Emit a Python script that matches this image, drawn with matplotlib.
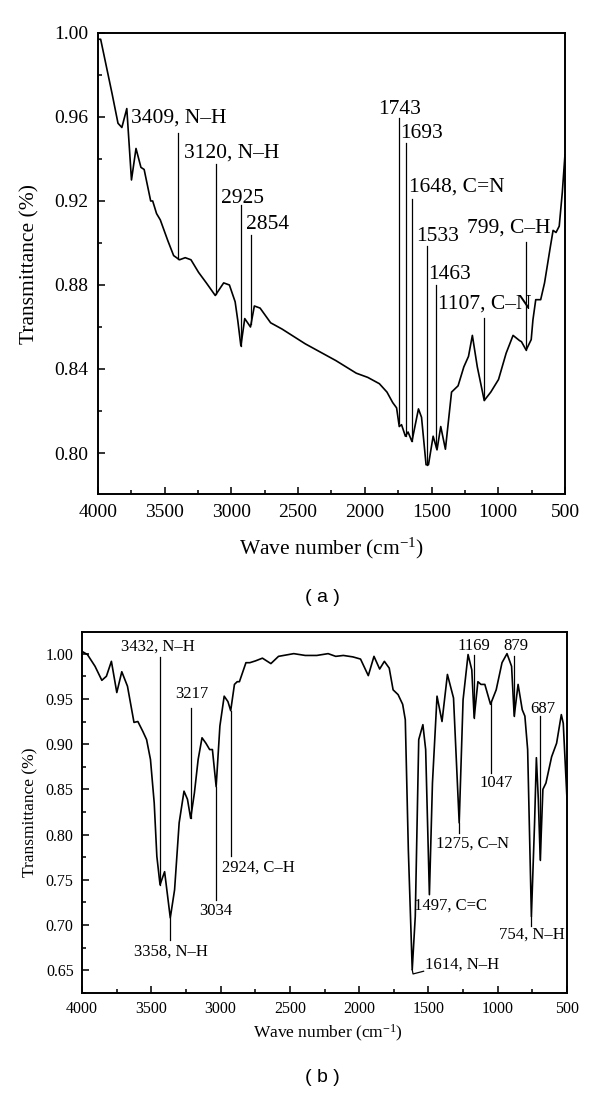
import numpy as np
import matplotlib
matplotlib.use("Agg")
import matplotlib.pyplot as plt
from matplotlib.ticker import MultipleLocator

plt.rcParams['font.family'] = ['Liberation Serif', 'DejaVu Serif']
plt.rcParams['mathtext.fontset'] = 'custom'
plt.rcParams['mathtext.rm'] = 'Liberation Serif'
plt.rcParams['mathtext.it'] = 'Liberation Serif:italic'

# ---------------- Panel (a) data ----------------
wn_a = [4000, 3980, 3937, 3894, 3850, 3821, 3784, 3749, 3715, 3678, 3654, 3605, 3590,
        3561, 3533, 3476, 3433, 3389, 3346, 3303, 3246, 3188, 3121, 3058, 3015, 2972,
        2952, 2929, 2900, 2857, 2828, 2785, 2706, 2620, 2447, 2217, 2064, 1978, 1891,
        1834, 1791, 1762, 1742, 1725, 1696, 1676, 1647, 1598, 1575, 1541, 1523, 1488,
        1459, 1431, 1396, 1350, 1301, 1258, 1223, 1194, 1157, 1105, 1056, 998, 941,
        889, 840, 826, 791, 753, 740, 719, 682, 653, 610, 589, 567, 543, 520, 500]
tr_a = [0.997, 0.997, 0.984, 0.971, 0.957, 0.955, 0.964, 0.930, 0.945, 0.936, 0.935,
        0.920, 0.920, 0.914, 0.911, 0.901, 0.894, 0.892, 0.893, 0.892, 0.886, 0.881,
        0.875, 0.881, 0.880, 0.872, 0.863, 0.851, 0.864, 0.860, 0.870, 0.869, 0.862,
        0.859, 0.852, 0.844, 0.838, 0.836, 0.833, 0.829, 0.824, 0.8215, 0.8126, 0.8135,
        0.808, 0.810, 0.8055, 0.821, 0.817, 0.7944, 0.7944, 0.808, 0.8015, 0.8126,
        0.8018, 0.829, 0.832, 0.841, 0.846, 0.856, 0.841, 0.825, 0.829, 0.835, 0.8475,
        0.856, 0.8535, 0.853, 0.849, 0.854, 0.8634, 0.873, 0.873, 0.881, 0.898, 0.906,
        0.905, 0.908, 0.924, 0.942]

labels_a = ["3409, N\u2013H", "3120, N\u2013H", "2925", "2854", "1743", "1693",
            "1648, C=N", "1533", "1463", "1107, C\u2013N", "799, C\u2013H"]
line_x_a = [3397, 3116, 2929, 2853, 1746, 1695, 1647, 1537, 1465, 1105, 791]
line_top_a = [0.9525, 0.9375, 0.918, 0.904, 0.9597, 0.9475, 0.921, 0.8986, 0.880, 0.8641, 0.9003]
text_x_a = [3750, 3352, 3078, 2894, 1897, 1733, 1667, 1618, 1523, 1453, 1235]
text_y_a = [0.9595, 0.9429, 0.9214, 0.909, 0.9637, 0.9522, 0.9268, 0.903, 0.8852, 0.871, 0.907]

# ---------------- Panel (b) data ----------------
wn_b = [4000, 3961, 3906, 3857, 3824, 3788, 3749, 3713, 3672, 3625, 3597, 3561, 3534,
        3506, 3479, 3460, 3437, 3404, 3363, 3332, 3299, 3264, 3239, 3216, 3189, 3162,
        3134, 3106, 3079, 3059, 3032, 3005, 2974, 2947, 2927, 2900, 2880, 2864, 2817,
        2789, 2748, 2698, 2637, 2582, 2472, 2389, 2306, 2224, 2169, 2114, 2045, 1990,
        1934, 1893, 1852, 1818, 1783, 1755, 1719, 1686, 1667, 1645, 1617, 1595, 1570,
        1540, 1520, 1493, 1471, 1438, 1402, 1363, 1319, 1278, 1250, 1214, 1187, 1170,
        1143, 1121, 1093, 1052, 1011, 969, 933, 900, 881, 853, 823, 804, 784, 757, 734,
        721, 707, 693, 674, 652, 611, 575, 541, 527, 500]
tr_b = [1.0025, 0.999, 0.986, 0.9705, 0.975, 0.9915, 0.957, 0.980, 0.964, 0.924, 0.925,
        0.914, 0.905, 0.883, 0.835, 0.776, 0.7446, 0.759, 0.708, 0.739, 0.813, 0.848,
        0.839, 0.818, 0.846, 0.883, 0.907, 0.901, 0.894, 0.894, 0.853, 0.920, 0.953,
        0.947, 0.937, 0.966, 0.969, 0.969, 0.990, 0.990, 0.992, 0.995, 0.989, 0.997,
        1.000, 0.998, 0.998, 1.000, 0.997, 0.998, 0.9964, 0.994, 0.9757, 0.997, 0.983,
        0.9915, 0.984, 0.960, 0.9547, 0.944, 0.927, 0.783, 0.6507, 0.7096, 0.905,
        0.9215, 0.894, 0.7336, 0.857, 0.953, 0.925, 0.977, 0.951, 0.813, 0.949, 0.999,
        0.982, 0.929, 0.969, 0.966, 0.966, 0.944, 0.960, 0.990, 1.000, 0.986, 0.931,
        0.966, 0.938, 0.931, 0.894, 0.7096, 0.813, 0.885, 0.839, 0.772, 0.850, 0.857,
        0.886, 0.901, 0.9326, 0.923, 0.839]

labels_b = ["3432, N\u2013H", "3217", "3034", "2924, C\u2013H", "3358, N\u2013H",
            "1275, C\u2013N", "1047", "754, N\u2013H", "1169", "879", "687"]
line_x_b = [3437, 3216, 3032, 2927, 3363, 1278, 1046, 757, 1170, 881, 693]
line_end_b = [0.9964, 0.940, 0.728, 0.776, 0.684, 0.802, 0.868, 0.6985, 0.998, 0.997, 0.931]
text_x_b = [3450, 3209, 3035, 2989, 3355, 1443, 1013, 755, 1170, 872, 674]
text_y_b = [1.008, 0.955, 0.716, 0.763, 0.671, 0.790, 0.8566, 0.689, 1.008, 1.008, 0.939]
text_ha_b = ['center', 'center', 'center', 'left', 'center', 'left', 'center', 'center',
             'center', 'center', 'center']

extra_labels_b = ["1497, C=C", "1614, N\u2013H"]
extra_x_b = [1602, 1528]
extra_y_b = [0.7214, 0.656]
hook_x_b = [1617, 1611, 1535]
hook_y_b = [0.6507, 0.646, 0.649]

fig = plt.figure(figsize=(6.0, 10.95), dpi=100)

def style_axes(ax, lw, fs, ymaj, ymin, pad_x, pad_y, maj_len, min_len):
    for s in ax.spines.values():
        s.set_linewidth(lw)
    ax.xaxis.set_major_locator(MultipleLocator(500))
    ax.xaxis.set_minor_locator(MultipleLocator(250))
    ax.yaxis.set_major_locator(MultipleLocator(ymaj))
    ax.yaxis.set_minor_locator(MultipleLocator(ymin))
    ax.tick_params(which='both', direction='in', top=False, right=False, width=lw * 0.8)
    ax.tick_params(which='major', length=maj_len, labelsize=fs)
    ax.tick_params(which='minor', length=min_len)
    ax.tick_params(axis='x', pad=pad_x)
    ax.tick_params(axis='y', pad=pad_y)

# ---------------- Panel (a) ----------------
axa = fig.add_axes([0.1633, 0.5489, 0.7783, 0.4210])
xa = np.array(wn_a, dtype=float)
ya = np.array(tr_a, dtype=float)
axa.plot(xa, ya, color='black', lw=1.2)
axa.set_xlim(4000, 500)
axa.set_ylim(0.7805, 1.0)
style_axes(axa, 1.4, 14, 0.04, 0.02, 7, 7, 5, 2.8)
axa.yaxis.set_major_formatter(matplotlib.ticker.FormatStrFormatter('%.2f'))
for lab, lx, lt, tx, ty in zip(labels_a, line_x_a, line_top_a, text_x_a, text_y_a):
    yb = np.interp(lx, xa[::-1], ya[::-1])
    axa.plot([lx, lx], [yb, lt], color='black', lw=0.9)
    axa.text(tx, ty, lab, fontsize=15.5, ha='left', va='center')

fig.text(331 / 600, 1 - 548 / 1095, 'Wave number (cm$^{-1}$)', fontsize=15.5,
         ha='center', va='center')
fig.text(30 / 600, 1 - 263.5 / 1095, 'Transmittance (%)', fontsize=15.5,
         ha='center', va='center', rotation=90)
fig.text(322 / 600, 1 - 597 / 1095, '( a )', fontsize=14, ha='center', va='center',
         family='Liberation Sans')

# ---------------- Panel (b) ----------------
axb = fig.add_axes([0.1367, 0.0932, 0.8083, 0.3297])
xb = np.array(wn_b, dtype=float)
yb_arr = np.array(tr_b, dtype=float)
axb.plot(xb, yb_arr, color='black', lw=1.2)
axb.set_xlim(4000, 500)
axb.set_ylim(0.625, 1.024)
style_axes(axb, 1.4, 11.5, 0.05, 0.025, 6, 6, 5, 3)
axb.yaxis.set_major_formatter(matplotlib.ticker.FormatStrFormatter('%.2f'))
for lab, lx, le, tx, ty, ha in zip(labels_b, line_x_b, line_end_b, text_x_b, text_y_b, text_ha_b):
    yc = np.interp(lx, xb[::-1], yb_arr[::-1])
    axb.plot([lx, lx], [yc, le], color='black', lw=0.9)
    axb.text(tx, ty, lab, fontsize=12, ha=ha, va='center')
for lab, tx, ty in zip(extra_labels_b, extra_x_b, extra_y_b):
    axb.text(tx, ty, lab, fontsize=12, ha='left', va='center')
axb.plot(hook_x_b, hook_y_b, color='black', lw=0.9)

fig.text(328 / 600, 1 - 1033 / 1095, 'Wave number (cm$^{-1}$)', fontsize=12.5,
         ha='center', va='center')
fig.text(30 / 600, 1 - 812 / 1095, 'Transmittance (%)', fontsize=12.5,
         ha='center', va='center', rotation=90)
fig.text(322 / 600, 1 - 1078 / 1095, '( b )', fontsize=14, ha='center', va='center',
         family='Liberation Sans')

fig.savefig('out.png', dpi=100)
